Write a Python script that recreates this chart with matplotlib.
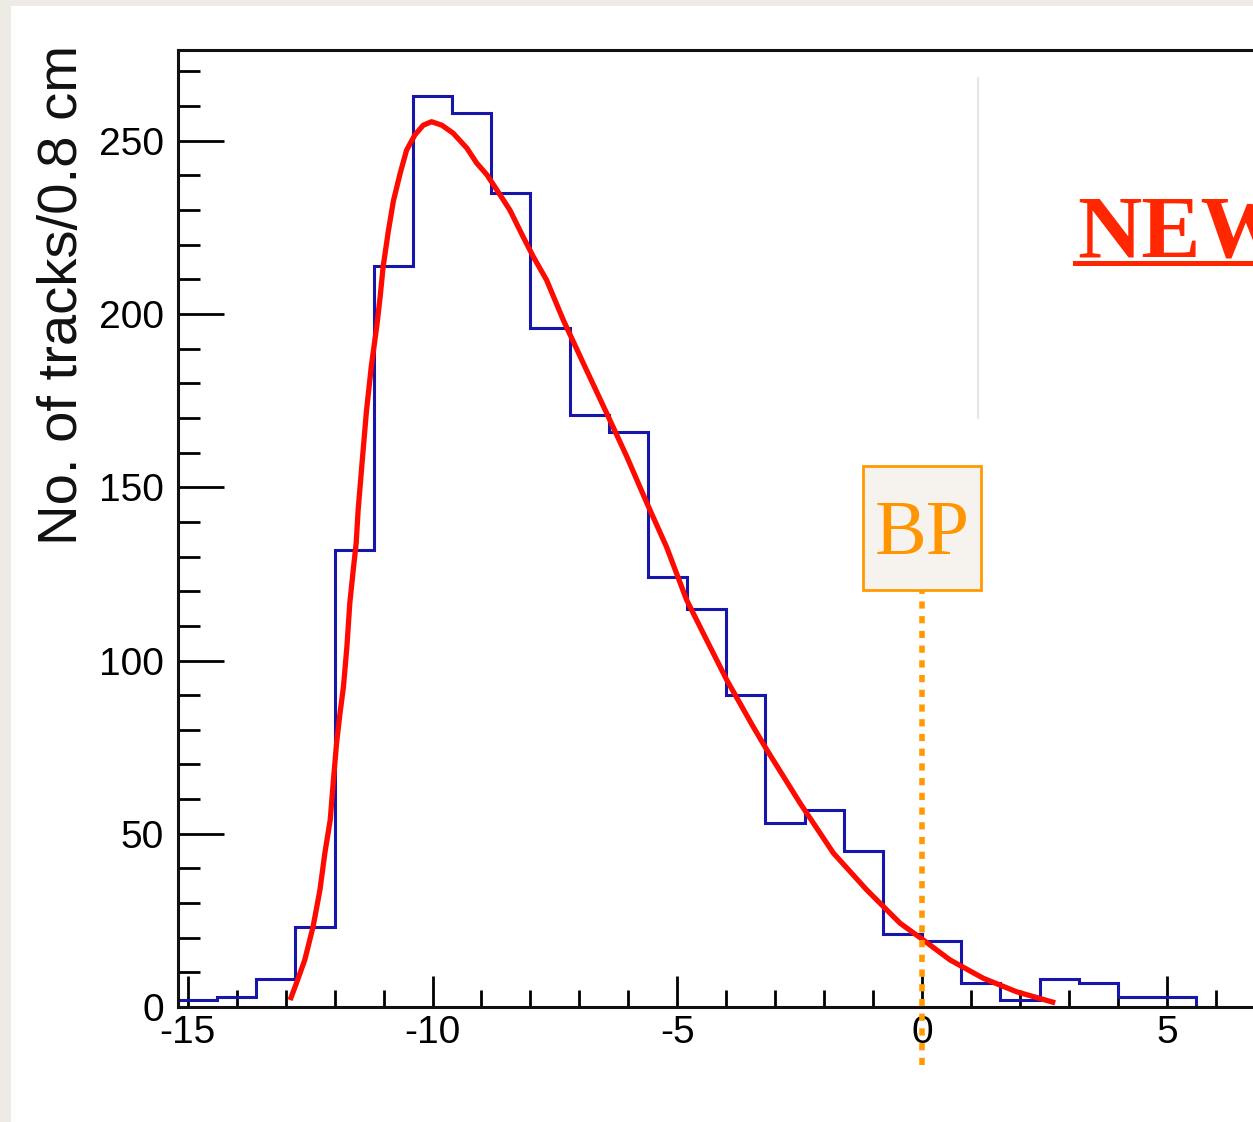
import numpy as np
import matplotlib
matplotlib.use("Agg")
import matplotlib.pyplot as plt
from matplotlib.patches import Rectangle
from matplotlib.lines import Line2D
from matplotlib.ticker import MultipleLocator

# Track vertex z distribution, 0.8 cm bins starting at -15.2 cm
bin_start = -15.2
bin_width = 0.8
counts = [2, 3, 8, 23, 132, 214, 263, 258, 235, 196, 171, 166, 124, 115,
          90, 53, 57, 45, 21, 19, 7, 2, 8, 7, 3, 3]

# Fitted curve sampled along z
fit_x = [-12.91, -12.78, -12.61, -12.44, -12.30, -12.20, -12.09, -12.03,
         -11.96, -11.89, -11.82, -11.75, -11.69, -11.62, -11.56, -11.52,
         -11.44, -11.35, -11.25, -11.14, -11.07, -11.01, -10.90, -10.80,
         -10.66, -10.53, -10.36, -10.19, -10.02, -9.81, -9.58, -9.30, -9.10,
         -8.89, -8.69, -8.42, -8.15, -7.94, -7.67, -7.33, -6.92, -6.44,
         -6.03, -5.62, -5.22, -4.81, -4.40, -3.99, -3.45, -3.17, -2.49,
         -1.81, -1.13, -0.45, 0.03, 0.57, 1.25, 1.93, 2.72]
fit_y = [2.0, 6.9, 13.6, 23.2, 33.8, 44.4, 54.0, 64.6,
         76.2, 84.8, 92.4, 103.9, 116.6, 126.1, 133.9, 143.4,
         157.0, 172.0, 185.0, 196.4, 205.0, 213.6, 224.2, 232.6,
         240.7, 247.3, 251.7, 254.5, 255.5, 254.5, 252.2, 247.9, 243.6,
         240.2, 235.9, 230.0, 222.3, 216.5, 209.8, 198.3, 185.8, 171.3,
         158.8, 145.4, 132.8, 117.5, 105.9, 94.4, 80.9, 74.2, 58.8,
         44.4, 33.8, 24.2, 19.3, 13.6, 8.3, 4.4, 1.2]

y_ticks = [0, 50, 100, 150, 200, 250]
x_ticks = [-15, -10, -5, 0, 5]
y_label = "No. of tracks/0.8 cm"
bp_label = "BP"
bp_z = 0.0
note = "NEW"

W, H = 1253, 1122
fig = plt.figure(figsize=(W / 100, H / 100), dpi=100)
fig.patch.set_facecolor("#eeebe5")

# white page panel behind everything
fig.patches.append(Rectangle((11 / W, 0), 1, 1 - 6 / H, transform=fig.transFigure,
                             facecolor="white", edgecolor="none", zorder=-10))

xmin, xmax = -15.2, 9.6
px_per_unit = 48.95
left_px, bottom_px, top_px = 178, 1007, 50
ax_w = (xmax - xmin) * px_per_unit
ax = fig.add_axes([left_px / W, 1 - bottom_px / H, ax_w / W, (bottom_px - top_px) / H])
ax.set_zorder(1)
ax.set_facecolor("white")
ax.set_xlim(xmin, xmax)
ax.set_ylim(0, 276.2)

edges = bin_start + bin_width * np.arange(len(counts) + 1)
ax.stairs(counts, edges, color="#1616aa", linewidth=2.2, baseline=0, fill=False,
          zorder=2)
ax.plot(fit_x, fit_y, color="#ff0a00", linewidth=3.8, solid_capstyle="butt",
        solid_joinstyle="round", zorder=4)

for s in ax.spines.values():
    s.set_linewidth(2.2)
    s.set_color("#111111")
    s.set_zorder(3)

ax.xaxis.set_major_locator(MultipleLocator(5))
ax.xaxis.set_minor_locator(MultipleLocator(1))
ax.yaxis.set_major_locator(MultipleLocator(50))
ax.yaxis.set_minor_locator(MultipleLocator(10))
ax.set_xticks(x_ticks)
ax.set_xticklabels([str(t) for t in x_ticks])
ax.set_yticks(y_ticks)
ax.set_yticklabels([str(t) for t in y_ticks])
ax.tick_params(axis="x", which="major", direction="in", length=22, width=2, pad=6,
               labelsize=28, top=False)
ax.tick_params(axis="x", which="minor", direction="in", length=12, width=2, top=False)
ax.tick_params(axis="y", which="major", direction="in", length=33, width=2, pad=10,
               labelsize=28, right=False)
ax.tick_params(axis="y", which="minor", direction="in", length=16, width=2, right=False)
for lab in ax.get_xticklabels() + ax.get_yticklabels():
    lab.set_family("Liberation Sans")

fig.text(63 / W, 1 - 295 / H, y_label, rotation=90, ha="center", va="center",
         fontsize=40.5, family="Liberation Sans", color="#111111")

# faint divider
fig.add_artist(Line2D([978 / W, 978 / W], [1 - 78 / H, 1 - 418 / H],
                      transform=fig.transFigure, color="#e6e6e6", linewidth=1.5,
                      zorder=2))

# beam pipe marker
box_lo, box_hi = 120.3, 156.1
half_w = 1.205
ax.plot([bp_z, bp_z], [-16.7, box_lo], color="#ff9a00", linewidth=4,
        linestyle=(0, (1.3, 1.35)), dash_capstyle="butt", clip_on=False, zorder=5)
ax.add_patch(Rectangle((bp_z - half_w, box_lo), 2 * half_w, box_hi - box_lo,
                       facecolor="#f6f3ef", edgecolor="#ff9a00", linewidth=2,
                       zorder=6, clip_on=False))
ax.text(bp_z, (box_lo + box_hi) / 2 - 2, bp_label, ha="center", va="center",
        fontsize=56, family="Liberation Serif", color="#ff9500", zorder=7)

fig.text(1077 / W, 1 - 256 / H, note, ha="left", va="baseline", fontsize=64,
         family="Liberation Serif", fontweight="bold", color="#ff2600", zorder=3)
fig.add_artist(Line2D([1075 / W, 1.0], [1 - 263 / H, 1 - 263 / H],
                      transform=fig.transFigure, color="#ff2600", linewidth=3.6,
                      zorder=3))

fig.savefig("out.png", dpi=100, facecolor=fig.get_facecolor())
